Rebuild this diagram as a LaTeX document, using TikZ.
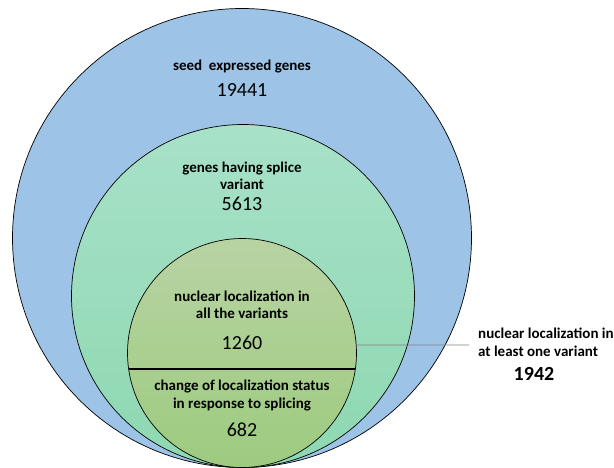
\documentclass[tikz,border=0pt]{standalone}
\usepackage{fontspec}
\setmainfont{Carlito}
\definecolor{seedblue}{HTML}{9DC3E6}
\definecolor{splicetop}{HTML}{A8E1C8}
\definecolor{splicebot}{HTML}{8DD8B1}
\definecolor{nuctop}{HTML}{B8D3A3}
\definecolor{nucbot}{HTML}{9DCB7F}
\begin{document}
\begin{tikzpicture}[
    x = 1pt,
    y = -1pt,
    set/.style = {circle, draw=black, line width=0.7pt,
              inner sep=0pt, outer sep=0pt},
    head/.style = {font=\fontsize{15}{17.5}\selectfont\bfseries,
              align=center, anchor=base, inner sep=0pt},
    count/.style = {font=\fontsize{20}{23}\selectfont, anchor=base, inner sep=0pt},
    ]

\useasboundingbox (0,0) rectangle (614,468);

\node[set, fill=seedblue, minimum size=459pt] (seed) at (242,238){};
\node[set, top color=splicetop, bottom color=splicebot, minimum size=343pt] (splice) at (243,296){};
\node[set, top color=nuctop, bottom color=nucbot, minimum size=229pt] (nuc) at (242,353){};
\draw [black, line width=1.2pt] (nuc.188) -- (nuc.352);

% two-line labels sit on the baseline of their last line
\node[head] (seed_lbl) at (242,71) {seed\ \ expressed genes};
\node[count] (seed_num) at (242,97) {19441};
\node[head] (splice_lbl) at (242,190) {genes having splice\\variant};
\node[count] (splice_num) at (242,211) {5613};
\node[head] (all_lbl) at (242,319) {nuclear localization in\\all the variants};
\node[count] (all_num) at (242,349) {1260};
\node[head] (change_lbl) at (242,408) {change of localization status\\in response to splicing};
\node[count] (change_num) at (242,436) {682};

\coordinate (tip) at (469,345);
\draw [gray, line width=0.8pt] (nuc.4) -- (tip);
\node[head, align=left, anchor=base west] (one_lbl) at (478,356) {nuclear localization in\\at least one variant};
\node[count, font=\fontsize{20}{23}\selectfont\bfseries] (one_num) at (534,380) {1942};

\end{tikzpicture}
\end{document}
